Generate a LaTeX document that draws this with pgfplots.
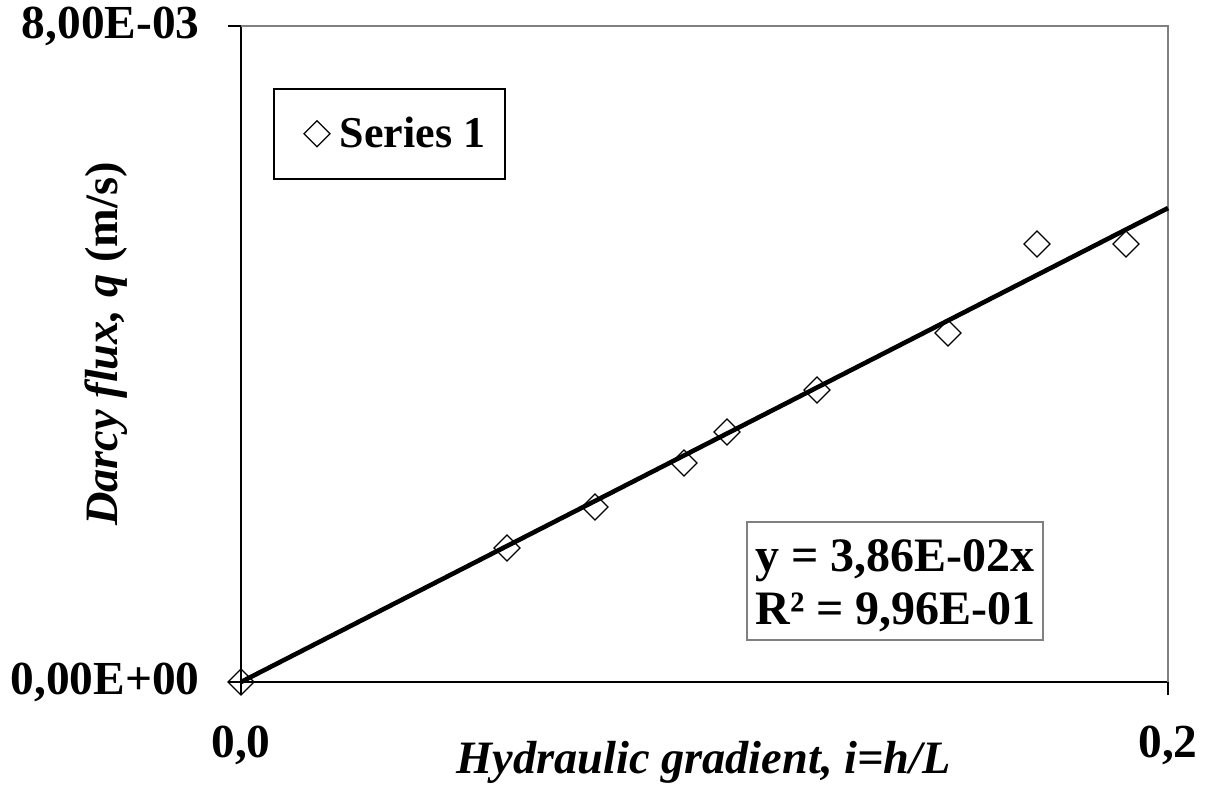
\documentclass[border=0pt]{standalone}
\usepackage{fontspec}
\setmainfont{Liberation Serif}
\usepackage{pgfplots}
\pgfplotsset{compat=1.18}
\begin{document}
\begin{tikzpicture}
\path[use as bounding box] (0pt,0pt) rectangle (606.5pt,393.5pt);
\begin{axis}[
  at={(120.5pt,52.5pt)}, anchor=south west,
  scale only axis, width=463.5pt, height=328pt,
  xmin=0, xmax=0.2, ymin=0, ymax=0.008,
  axis lines=left, axis line style={-, line width=1pt, black},
  xtick={0,0.2}, xticklabels={{0,0},{0,2}},
  ytick={0,0.008}, yticklabels={{0,00E+00},{8,00E-03}},
  tick align=outside, major tick length=6.5pt,
  tick style={line width=1pt, black},
  scaled ticks=false,
  ticklabel style={font=\fontsize{23.7}{28}\selectfont\bfseries},
  xticklabel style={anchor=north, inner sep=0pt, yshift=-15.5pt},
  yticklabel style={anchor=east, inner sep=0pt, xshift=-14pt},
  xlabel={\textbf{\textit{Hydraulic gradient, i=h/L}}},
  ylabel={\textbf{\textit{Darcy flux, q} (m/s)}},
  label style={font=\fontsize{23.2}{28}\selectfont},
  xlabel style={at={(axis description cs:0.499,-0.1402)}, anchor=base},
  ylabel style={at={(axis description cs:-0.1327,0.515)}, anchor=base},
  clip=false,
  legend style={at={(axis description cs:0.0345,0.9055)}, anchor=north west,
    draw=black, line width=1pt, inner xsep=10pt, inner ysep=14pt,
    font=\fontsize{22}{28}\selectfont\bfseries,
    nodes={inner sep=0pt}, column sep=5pt},
  legend image code/.code={\path[draw=none, fill=none] (-11.5pt,0pt) rectangle (6.5pt,0pt); \draw[mark repeat=1] plot coordinates {(0pt,0pt)};},
]
\draw[gray, line width=1pt] (rel axis cs:0,1) -- (rel axis cs:1,1) -- (rel axis cs:1,0);
\addplot[only marks, mark=diamond, mark size=6.5pt,
  mark options={xscale=1.333, draw=black, line width=0.6pt}]
  coordinates {
  (0,0) (0.05739,0.001634) (0.07638,0.002134) (0.09558,0.002671)
  (0.10485,0.003049) (0.12427,0.003561) (0.15254,0.004256)
  (0.17174,0.005341) (0.19094,0.005341)
  };
\addlegendentry{Series 1}
\addplot[black, line width=2.3pt, forget plot] coordinates {(0,0) (0.2,0.00578)};
\draw[gray, line width=0.6pt] (axis description cs:0.5458,0.2439) rectangle (axis description cs:0.8652,0.0640);
\node[anchor=base west, inner sep=0pt, font=\fontsize{24}{28}\selectfont\bfseries] at (axis description cs:0.5545,0.1677) {y = 3,86E-02x};
\node[anchor=base west, inner sep=0pt, font=\fontsize{24}{28}\selectfont\bfseries] at (axis description cs:0.5545,0.0869) {R² = 9,96E-01};
\end{axis}
\end{tikzpicture}
\end{document}
